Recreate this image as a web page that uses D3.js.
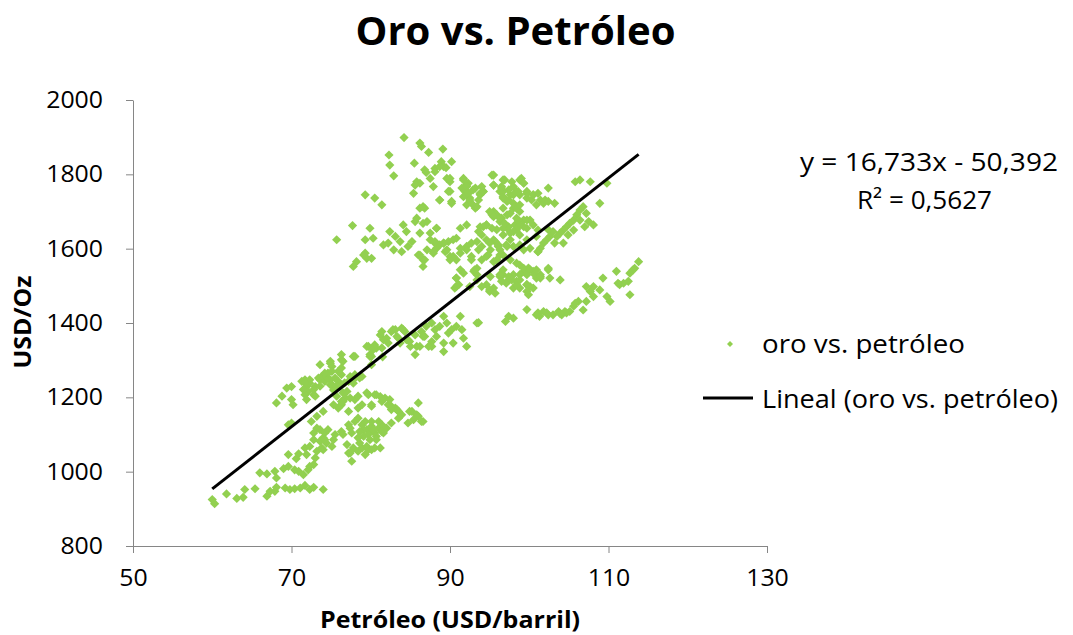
<!DOCTYPE html>
<html>
<head>
<meta charset="utf-8">
<script src="https://cdn.jsdelivr.net/npm/d3@7"></script>
<style>
  html, body { margin:0; padding:0; background:#fff; }
  svg { display:block; font-family:"Open Sans", sans-serif; }
</style>
</head>
<body>
<svg id="chart" width="1073" height="635"></svg>
<script>
/* Oro vs. Petróleo - scatter + tendencia lineal */
const titulo = 'Oro vs. Petróleo';
const tituloX = 'Petróleo (USD/barril)';
const tituloY = 'USD/Oz';
const ticksX = [50, 70, 90, 110, 130];
const ticksY = [800, 1000, 1200, 1400, 1600, 1800, 2000];
const pendiente = 16.733, intercepto = -50.392;
const ecuacion = ['y = 16,733x - 50,392', 'R² = 0,5627'];
const leyenda = ['oro vs. petróleo', 'Lineal (oro vs. petróleo)'];

const bandaBaja = [[60.0,925],[60.3,914],[61.8,940],[63.1,928],[63.9,931],[64.1,952],[65.4,954],[66.9,934],[67.3,947],[67.9,947],[68.1,958],[69.2,956],[69.8,952],[70.4,954],[71.1,956],[71.7,963],[72.3,952],[72.8,958],[74.0,952],[66.0,997],[66.9,994],[67.9,1001],[68.1,983],[69.0,1008],[69.6,1014],[70.4,1005],[70.9,1001],[71.5,992],[72.1,1005],[72.3,1014],[72.8,1019],[70.6,1035],[69.6,1046],[70.9,1048],[71.7,1064],[73.0,1037],[71.9,1046],[72.3,1068]];

const grupoMedioBajo = [[72.5,1135],[72.8,1104],[73.2,1117],[74.0,1091],[73.6,1082],[74.4,1077],[75.1,1068],[74.2,1104],[74.6,1113],[75.5,1100],[76.3,1108],[76.5,1100],[77.2,1126],[77.4,1117],[77.6,1104],[78.0,1135],[78.4,1144],[78.9,1126],[79.3,1135],[79.5,1113],[79.9,1108],[80.1,1122],[80.5,1104],[81.0,1117],[81.4,1126],[82.0,1117],[82.6,1131],[83.5,1144],[83.9,1153],[84.7,1131],[85.2,1162],[85.8,1153],[86.4,1135],[77.2,1050],[77.6,1028],[78.4,1055],[78.9,1064],[79.3,1046],[79.7,1059],[80.5,1064],[81.2,1064],[73.2,1149],[74.0,1162],[77.2,1162],[78.4,1171],[78.9,1180],[80.1,1180],[80.5,1207],[81.2,1202],[81.8,1198],[82.2,1180],[82.6,1167],[83.1,1171],[83.5,1162],[79.7,1207],[78.0,1194],[76.8,1198],[76.3,1180],[75.9,1171],[75.3,1180],[73.8,1064],[74.2,1086],[73.2,1055],[79.1,1113],[79.7,1100],[80.3,1113],[80.7,1095],[79.1,1095],[79.9,1086],[81.4,1108],[78.6,1108],[81.0,1135],[80.1,1135],[69.6,1126],[70.0,1131],[77.4,1050],[77.8,1064],[78.6,1077],[79.5,1068],[80.1,1059],[80.7,1086],[81.6,1104],[78.4,1091],[77.0,1073],[73.6,1113],[72.8,1086],[74.0,1059],[75.3,1086],[86.6,1135],[86.0,1149],[85.4,1140],[84.9,1162],[86.0,1185],[83.3,1167],[82.6,1176],[82.4,1194],[81.4,1189],[80.1,1176],[76.1,1176],[76.5,1189]];

const grupoMedioAlto = [[68.1,1185],[68.8,1203],[69.4,1225],[70.0,1229],[70.0,1194],[70.2,1180],[71.3,1243],[71.7,1247],[71.9,1229],[72.3,1238],[72.1,1216],[72.8,1207],[73.0,1229],[73.6,1247],[73.8,1256],[74.2,1243],[74.4,1256],[74.6,1265],[74.9,1247],[75.1,1234],[75.3,1220],[75.5,1252],[75.9,1243],[76.1,1229],[76.3,1261],[76.5,1212],[77.0,1216],[77.2,1243],[77.6,1252],[73.6,1288],[74.9,1297],[75.1,1283],[76.3,1301],[76.3,1279],[75.9,1270],[77.4,1256],[77.8,1238],[78.0,1261],[78.9,1256],[71.7,1207],[76.3,1189],[75.7,1203],[74.9,1292],[75.1,1270],[74.2,1265],[72.3,1247],[73.4,1252],[71.7,1239],[71.5,1221],[72.8,1221],[73.6,1230],[74.9,1234],[75.7,1230],[76.7,1239],[77.8,1247],[78.6,1252],[71.9,1194],[73.0,1203],[77.4,1198],[78.4,1203],[79.5,1212],[80.7,1207]];

const bandaCentral = [[79.7,1337],[80.5,1341],[80.7,1332],[81.2,1368],[81.4,1377],[81.6,1355],[82.0,1359],[82.2,1346],[82.6,1377],[83.1,1382],[83.5,1359],[83.9,1386],[84.3,1377],[84.7,1355],[85.6,1368],[85.8,1337],[85.6,1315],[86.4,1377],[86.6,1364],[80.1,1310],[78.0,1310],[79.5,1337],[80.3,1328],[79.9,1310],[82.8,1382],[83.3,1364],[83.7,1346],[84.1,1382],[84.5,1355],[85.0,1337],[86.2,1337],[87.0,1391],[87.7,1400],[88.1,1382],[88.3,1364],[88.7,1391],[89.2,1418],[89.6,1400],[89.8,1373],[90.2,1382],[90.8,1391],[91.3,1418],[91.5,1382],[91.7,1359],[92.1,1337],[90.4,1346],[89.2,1346],[87.7,1350],[93.4,1400],[91.1,1503],[90.6,1494],[87.7,1337],[89.2,1323],[81.5,1309],[81.4,1333],[84.9,1350],[87.3,1337],[79.9,1315],[76.3,1315],[77.8,1310],[76.5,1297],[80.1,1288],[86.8,1364]];

const zonaAlta = [[84.2,1899],[86.2,1884],[86.4,1875],[87.3,1859],[89.1,1868],[82.3,1852],[82.4,1825],[82.9,1796],[85.5,1830],[88.1,1816],[88.9,1834],[89.2,1821],[89.5,1818],[90.2,1834],[87.0,1805],[85.8,1780],[86.2,1776],[85.6,1771],[85.4,1749],[87.5,1789],[87.9,1767],[89.6,1789],[90.0,1780],[88.7,1731],[90.2,1722],[90.0,1754],[91.7,1789],[92.1,1771],[91.5,1763],[92.3,1749],[92.5,1736],[93.2,1763],[94.0,1767],[94.2,1754],[93.8,1745],[92.1,1718],[93.2,1709],[95.5,1798],[95.5,1771],[96.7,1785],[96.5,1763],[97.8,1780],[98.0,1767],[99.0,1789],[99.3,1776],[98.4,1754],[97.6,1745],[96.7,1736],[97.2,1727],[98.8,1745],[99.7,1736],[100.5,1745],[101.4,1731],[100.9,1718],[102.4,1763],[98.0,1709],[98.8,1700],[95.5,1700],[95.9,1691],[96.5,1682],[94.6,1664],[93.8,1659],[92.1,1664],[91.3,1655],[79.3,1745],[80.5,1736],[81.4,1718],[77.7,1662],[79.9,1655],[79.3,1624],[80.3,1628],[75.7,1624],[82.4,1646],[83.1,1633],[83.7,1619],[84.1,1664],[84.5,1646],[85.6,1673],[86.6,1668],[85.8,1682],[86.2,1709],[86.8,1709],[88.3,1655],[87.5,1642],[86.2,1642],[81.6,1610],[82.2,1615],[82.9,1597],[83.9,1592],[84.7,1606],[85.2,1619],[86.0,1583],[86.6,1570],[87.9,1588],[88.3,1601],[89.2,1615],[89.8,1619],[90.4,1624],[89.4,1592],[90.0,1579],[90.8,1570],[91.3,1588],[92.1,1606],[92.7,1615],[93.4,1619],[93.6,1597],[92.7,1579],[94.0,1606],[94.6,1624],[95.1,1597],[95.7,1619],[96.1,1606],[96.7,1637],[97.2,1655],[97.6,1642],[98.2,1664],[98.8,1664],[99.7,1655],[100.5,1664],[101.1,1650],[98.8,1637],[99.7,1624],[100.1,1601],[101.1,1592],[97.2,1606],[96.3,1583],[94.6,1579],[95.5,1565],[93.4,1547],[93.0,1539],[90.8,1521],[90.8,1498],[95.1,1525],[94.6,1503],[95.5,1494],[96.7,1530],[97.2,1512],[98.0,1530],[98.4,1512],[98.8,1556],[99.3,1539],[99.9,1548],[100.5,1539],[100.9,1521],[99.7,1503],[100.5,1494],[98.8,1494],[99.9,1476],[98.0,1494],[101.4,1530],[102.4,1547],[79.1,1583],[79.5,1574],[80.1,1574],[78.2,1565],[77.8,1552],[87.5,1624],[88.1,1615],[91.9,1754],[92.3,1776],[91.7,1740],[96.7,1754],[97.4,1758],[99.7,1754],[100.3,1731],[101.8,1722],[95.3,1691],[97.2,1691],[98.4,1682],[99.3,1677],[100.1,1677],[79.3,1588]];

const grupoDerechaAlto = [[105.8,1780],[106.4,1785],[107.7,1780],[108.9,1722],[109.8,1776],[106.8,1713],[106.4,1704],[106.0,1691],[105.6,1677],[105.1,1668],[104.7,1659],[104.3,1650],[103.9,1642],[103.5,1633],[103.0,1646],[102.6,1633],[102.2,1624],[101.8,1615],[101.4,1601],[107.2,1695],[107.5,1673],[107.0,1659],[108.1,1664],[106.4,1677],[105.6,1650],[104.9,1637],[104.3,1615],[103.2,1615],[102.4,1651],[100.9,1633],[101.1,1592],[99.7,1677],[99.3,1659],[98.8,1664],[98.4,1651],[98.0,1646],[97.6,1624],[97.4,1659],[96.7,1655],[96.3,1673],[95.9,1651],[95.3,1655],[94.6,1664],[94.2,1659],[94.0,1637],[93.6,1646],[95.5,1624],[95.0,1615],[96.1,1610],[97.1,1610],[98.0,1606],[98.8,1610],[99.3,1597],[96.7,1583],[96.3,1597],[95.9,1570],[94.8,1583],[94.0,1570],[97.6,1570],[98.4,1561],[99.3,1547],[100.1,1543],[100.7,1530],[101.4,1521],[99.7,1530],[98.8,1530],[99.7,1503],[98.4,1503],[97.4,1525],[96.7,1543],[96.3,1530],[95.0,1489],[94.0,1498],[93.4,1530],[93.1,1543],[92.7,1570],[92.1,1597],[91.3,1601],[90.4,1579],[90.0,1570],[89.6,1597],[88.7,1610],[88.1,1619],[87.9,1592],[87.1,1597],[86.8,1570],[86.6,1552],[86.2,1583],[91.7,1785],[92.1,1767],[92.3,1749],[92.5,1731],[92.9,1718],[93.4,1713],[93.8,1749],[94.2,1754],[92.9,1758],[93.6,1731],[95.3,1798],[95.5,1771],[96.5,1767],[96.9,1785],[96.3,1754],[96.7,1740],[97.4,1731],[98.0,1722],[98.4,1709],[98.8,1718],[98.0,1745],[98.6,1754],[98.8,1785],[99.3,1776],[99.7,1749],[100.5,1745],[101.1,1749],[102.0,1731],[102.4,1727],[103.2,1722],[96.7,1709],[95.0,1700],[95.5,1686],[96.3,1682],[96.9,1668],[97.6,1695],[98.6,1677],[88.1,1807],[88.7,1821],[90.0,1789],[89.8,1754],[90.2,1727],[88.7,1731],[86.8,1812],[86.6,1713],[87.1,1673],[88.3,1655],[89.2,1615],[90.8,1628]];

const brazoDerecho = [[113.8,1565],[113.3,1547],[112.7,1534],[111.9,1507],[112.5,1512],[111.4,1503],[111.0,1539],[112.7,1476],[109.3,1521],[108.1,1498],[107.2,1498],[108.9,1489],[109.8,1471],[110.2,1458],[108.1,1471],[107.2,1458],[106.8,1435],[106.2,1458],[105.6,1445],[105.1,1431],[104.7,1427],[104.1,1422],[103.7,1431],[103.0,1422],[102.4,1422],[101.8,1431],[101.1,1427],[101.3,1418],[99.7,1436],[98.0,1413],[97.4,1418],[97.0,1404],[93.6,1401],[104.5,1431],[105.8,1453],[107.7,1485],[111.2,1507],[113.1,1543],[103.9,1425],[102.2,1427],[100.9,1422],[90.8,1521],[91.0,1503],[91.3,1543],[91.7,1534],[92.5,1498],[93.4,1516],[95.0,1485],[95.7,1480],[96.3,1525],[96.5,1512],[97.1,1507],[97.8,1516],[98.8,1516],[100.1,1498],[99.7,1485],[100.9,1543],[101.4,1525],[102.4,1543],[102.6,1521],[103.9,1516]];

const puntos = [].concat(bandaBaja, grupoMedioBajo, grupoMedioAlto, bandaCentral, zonaAlta, grupoDerechaAlto, brazoDerecho);

const area = { left:133, right:767, top:100, bottom:546 };
const verde = '#92D050', gris = '#868686';
const fuente = '"Open Sans", sans-serif';

const svg = d3.select('#chart');
const x = d3.scaleLinear().domain([50, 130]).range([area.left, area.right]);
const y = d3.scaleLinear().domain([800, 2000]).range([area.bottom, area.top]);

// estira el texto en horizontal (la imagen original está algo ensanchada)
function estirar(sel, factor){
  sel.each(function(){
    const w = this.getComputedTextLength();
    d3.select(this).attr('textLength', w*factor).attr('lengthAdjust','spacingAndGlyphs');
  });
}

// ejes
const gx = svg.append('g').attr('transform', `translate(0,${area.bottom})`)
  .call(d3.axisBottom(x).tickValues(ticksX).tickFormat(d3.format('d'))
    .tickSize(7).tickPadding(17).tickSizeOuter(0));
const gy = svg.append('g').attr('transform', `translate(${area.left},0)`)
  .call(d3.axisLeft(y).tickValues(ticksY).tickFormat(d3.format('d'))
    .tickSize(7).tickPadding(23).tickSizeOuter(0));
[gx, gy].forEach(g => {
  g.select('.domain').attr('stroke', gris);
  g.selectAll('.tick line').attr('stroke', gris);
  g.selectAll('.tick text').attr('font-family', fuente).attr('font-size', 23).attr('fill', '#000')
    .call(estirar, 1.08);
});

// puntos (rombos)
const rombo = r => `M0,${-r}L${r},0L0,${r}L${-r},0Z`;
svg.append('g').selectAll('path').data(puntos).join('path')
  .attr('d', rombo(4.6))
  .attr('transform', d => `translate(${x(d[0])},${y(d[1])})`)
  .attr('fill', verde);

// línea de tendencia
const [xMin, xMax] = d3.extent(puntos, d => d[0]);
const tendencia = [xMin, xMax].map(v => [v, pendiente*v + intercepto]);
svg.append('path')
  .attr('d', d3.line().x(d => x(d[0])).y(d => y(d[1]))(tendencia))
  .attr('stroke', '#000').attr('stroke-width', 3).attr('fill', 'none');

// textos
svg.append('text').text(titulo)
  .attr('x', 515.5).attr('y', 45).attr('text-anchor', 'middle')
  .attr('font-family', fuente).attr('font-weight', 'bold').attr('font-size', 40)
  .attr('textLength', 320).attr('lengthAdjust', 'spacingAndGlyphs');

svg.append('text').text(tituloX)
  .attr('x', 450).attr('y', 628).attr('text-anchor', 'middle')
  .attr('font-family', fuente).attr('font-weight', 'bold').attr('font-size', 24)
  .attr('textLength', 260).attr('lengthAdjust', 'spacingAndGlyphs');

svg.append('text').text(tituloY)
  .attr('transform', 'translate(31,322) rotate(-90)').attr('text-anchor', 'middle')
  .attr('font-family', fuente).attr('font-weight', 'bold').attr('font-size', 24)
  .attr('textLength', 93).attr('lengthAdjust', 'spacingAndGlyphs');

svg.append('text').text(ecuacion[0])
  .attr('x', 929).attr('y', 171).attr('text-anchor', 'middle')
  .attr('font-family', fuente).attr('font-size', 26)
  .attr('textLength', 258).attr('lengthAdjust', 'spacingAndGlyphs');
svg.append('text').text(ecuacion[1])
  .attr('x', 924.5).attr('y', 209).attr('text-anchor', 'middle')
  .attr('font-family', fuente).attr('font-size', 26)
  .attr('textLength', 135).attr('lengthAdjust', 'spacingAndGlyphs');

// leyenda
const ley = svg.append('g');
ley.append('path').attr('d', rombo(3)).attr('transform', 'translate(730,344)').attr('fill', verde);
ley.append('text').text(leyenda[0])
  .attr('x', 762).attr('y', 353)
  .attr('font-family', fuente).attr('font-size', 26)
  .attr('textLength', 203).attr('lengthAdjust', 'spacingAndGlyphs');
ley.append('line').attr('x1', 703).attr('x2', 753).attr('y1', 398).attr('y2', 398)
  .attr('stroke', '#000').attr('stroke-width', 3);
ley.append('text').text(leyenda[1])
  .attr('x', 762).attr('y', 408)
  .attr('font-family', fuente).attr('font-size', 26)
  .attr('textLength', 296).attr('lengthAdjust', 'spacingAndGlyphs');
</script>
</body>
</html>
